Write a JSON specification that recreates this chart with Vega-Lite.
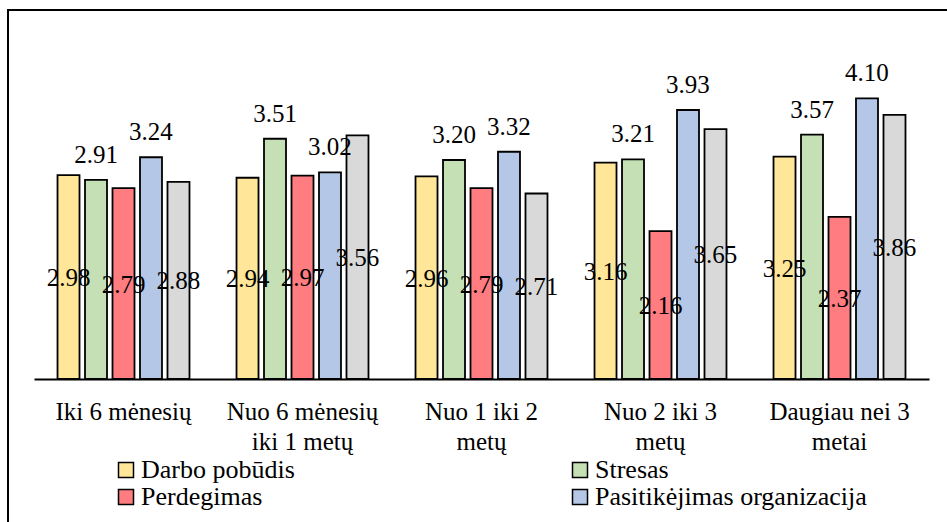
{
  "$schema": "https://vega.github.io/schema/vega-lite/v6.json",
  "autosize": {"type": "none"},
  "width": 939,
  "height": 512,
  "padding": {"left": 8, "top": 10, "right": 0, "bottom": 0},
  "background": "white",
  "config": {
    "view": {"stroke": "black", "strokeWidth": 2, "strokeDash": [939, 1451, 512]},
    "font": "'Liberation Serif', 'Times New Roman', serif",
    "text": {"font": "'Liberation Serif', 'Times New Roman', serif", "fontSize": 25, "color": "black"},
    "axis": {"labelFont": "'Liberation Serif', 'Times New Roman', serif"},
    "legend": {"labelFont": "'Liberation Serif', 'Times New Roman', serif"}
  },
  "data": {
    "values": [
      {"period": "Iki 6 mėnesių", "series": "Darbo pobūdis", "value": 2.98},
      {"period": "Iki 6 mėnesių", "series": "Stresas", "value": 2.91},
      {"period": "Iki 6 mėnesių", "series": "Perdegimas", "value": 2.79},
      {"period": "Iki 6 mėnesių", "series": "Pasitikėjimas organizacija", "value": 3.24},
      {"period": "Iki 6 mėnesių", "series": "Įsitraukimas", "value": 2.88},
      {"period": "Nuo 6 mėnesių iki 1 metų", "series": "Darbo pobūdis", "value": 2.94},
      {"period": "Nuo 6 mėnesių iki 1 metų", "series": "Stresas", "value": 3.51},
      {"period": "Nuo 6 mėnesių iki 1 metų", "series": "Perdegimas", "value": 2.97},
      {"period": "Nuo 6 mėnesių iki 1 metų", "series": "Pasitikėjimas organizacija", "value": 3.02},
      {"period": "Nuo 6 mėnesių iki 1 metų", "series": "Įsitraukimas", "value": 3.56},
      {"period": "Nuo 1 iki 2 metų", "series": "Darbo pobūdis", "value": 2.96},
      {"period": "Nuo 1 iki 2 metų", "series": "Stresas", "value": 3.20},
      {"period": "Nuo 1 iki 2 metų", "series": "Perdegimas", "value": 2.79},
      {"period": "Nuo 1 iki 2 metų", "series": "Pasitikėjimas organizacija", "value": 3.32},
      {"period": "Nuo 1 iki 2 metų", "series": "Įsitraukimas", "value": 2.71},
      {"period": "Nuo 2 iki 3 metų", "series": "Darbo pobūdis", "value": 3.16},
      {"period": "Nuo 2 iki 3 metų", "series": "Stresas", "value": 3.21},
      {"period": "Nuo 2 iki 3 metų", "series": "Perdegimas", "value": 2.16},
      {"period": "Nuo 2 iki 3 metų", "series": "Pasitikėjimas organizacija", "value": 3.93},
      {"period": "Nuo 2 iki 3 metų", "series": "Įsitraukimas", "value": 3.65},
      {"period": "Daugiau nei 3 metai", "series": "Darbo pobūdis", "value": 3.25},
      {"period": "Daugiau nei 3 metai", "series": "Stresas", "value": 3.57},
      {"period": "Daugiau nei 3 metai", "series": "Perdegimas", "value": 2.37},
      {"period": "Daugiau nei 3 metai", "series": "Pasitikėjimas organizacija", "value": 4.10},
      {"period": "Daugiau nei 3 metai", "series": "Įsitraukimas", "value": 3.86}
    ]
  },
  "encoding": {
    "x": {
      "field": "period",
      "type": "nominal",
      "sort": ["Iki 6 mėnesių", "Nuo 6 mėnesių iki 1 metų", "Nuo 1 iki 2 metų", "Nuo 2 iki 3 metų", "Daugiau nei 3 metai"],
      "scale": {"range": [26, 921], "paddingInner": 0.232, "paddingOuter": 0.116},
      "axis": {
        "title": null,
        "orient": "bottom",
        "offset": -143,
        "domainColor": "black",
        "domainWidth": 2,
        "ticks": false,
        "tickSize": 0,
        "labelPadding": 20,
        "labelAngle": 0,
        "labelFontSize": 25,
        "labelColor": "black",
        "labelLineHeight": 30,
        "labelLimit": 0,
        "labelOverlap": false,
        "labelBound": false,
        "labelExpr": "datum.value == 'Nuo 6 mėnesių iki 1 metų' ? ['Nuo 6 mėnesių', 'iki 1 metų'] : datum.value == 'Nuo 1 iki 2 metų' ? ['Nuo 1 iki 2', 'metų'] : datum.value == 'Nuo 2 iki 3 metų' ? ['Nuo 2 iki 3', 'metų'] : datum.value == 'Daugiau nei 3 metai' ? ['Daugiau nei 3', 'metai'] : datum.value"
      }
    },
    "xOffset": {
      "field": "series",
      "type": "nominal",
      "sort": ["Darbo pobūdis", "Stresas", "Perdegimas", "Pasitikėjimas organizacija", "Įsitraukimas"],
      "scale": {"paddingInner": 0.2, "paddingOuter": 0.1}
    }
  },
  "layer": [
    {
      "mark": {"type": "bar", "stroke": "black", "strokeWidth": 1.8},
      "encoding": {
        "y": {
          "field": "value",
          "type": "quantitative",
          "scale": {"domain": [0, 4.5], "range": [369, 61], "nice": false},
          "axis": null
        },
        "color": {
          "field": "series",
          "type": "nominal",
          "scale": {
            "domain": ["Darbo pobūdis", "Stresas", "Perdegimas", "Pasitikėjimas organizacija", "Įsitraukimas"],
            "range": ["#FFE699", "#C5E0B4", "#FF7C80", "#B4C7E7", "#D9D9D9"]
          },
          "legend": {
            "orient": "none",
            "legendX": 105,
            "legendY": 447,
            "direction": "horizontal",
            "columns": 2,
            "columnPadding": 272,
            "rowPadding": 1,
            "padding": 0,
            "title": null,
            "values": ["Darbo pobūdis", "Stresas", "Perdegimas", "Pasitikėjimas organizacija"],
            "symbolType": "square",
            "symbolSize": 225,
            "symbolStrokeColor": "black",
            "symbolStrokeWidth": 1.5,
            "symbolOpacity": 1,
            "labelFontSize": 26,
            "labelColor": "black",
            "labelOffset": 2,
            "labelLimit": 0
          }
        }
      }
    },
    {
      "transform": [{"filter": {"field": "series", "oneOf": ["Stresas", "Pasitikėjimas organizacija"]}}],
      "mark": {"type": "text", "fontSize": 25, "baseline": "alphabetic", "align": "center", "dy": -17},
      "encoding": {
        "y": {
          "field": "value",
          "type": "quantitative",
          "scale": {"domain": [0, 4.5], "range": [369, 61], "nice": false},
          "axis": null
        },
        "text": {"field": "value", "type": "quantitative", "format": ".2f"}
      }
    },
    {
      "transform": [{"filter": {"not": {"field": "series", "oneOf": ["Stresas", "Pasitikėjimas organizacija"]}}}],
      "mark": {"type": "text", "fontSize": 25, "baseline": "alphabetic", "align": "center", "dy": 9},
      "encoding": {
        "y": {
          "field": "value",
          "type": "quantitative",
          "scale": {"domain": [0, 9], "range": [369, 61], "nice": false},
          "axis": null
        },
        "text": {"field": "value", "type": "quantitative", "format": ".2f"}
      }
    }
  ],
  "resolve": {"scale": {"y": "independent"}}
}
